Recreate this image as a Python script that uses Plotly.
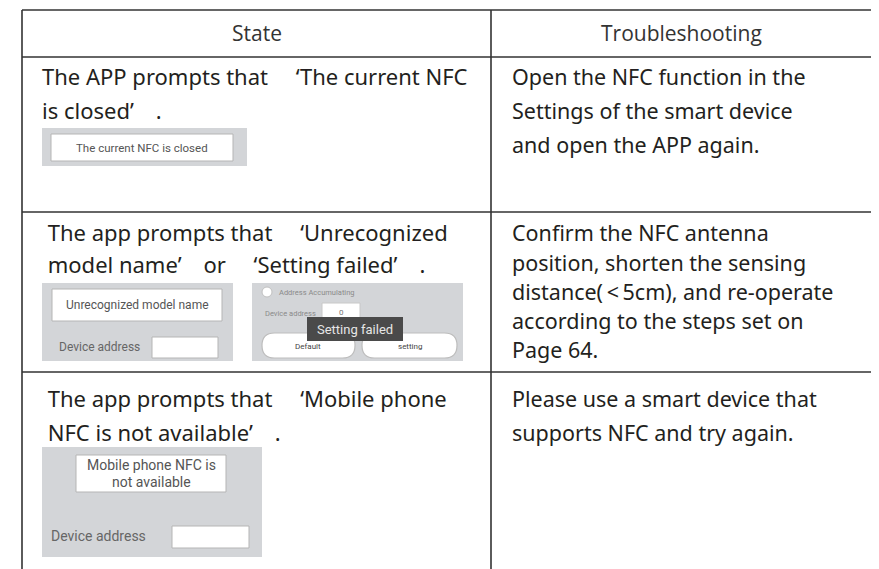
import plotly.graph_objects as go

W, H = 879, 569
OFF = 8  # default page body margin

# ---- table content ----
headers = ["State", "Troubleshooting"]
state_lines = [
    ["The APP prompts that \u2003\u2018The current NFC", "is closed\u2019\u2003."],
    [" The app prompts that \u2003\u2018Unrecognized", " model name\u2019\u2003or \u2003\u2018Setting failed\u2019\u2003."],
    [" The app prompts that \u2003\u2018Mobile phone", " NFC is not available\u2019\u2003."],
]
fix_lines = [
    ["Open the NFC function in the", "Settings of the smart device", "and open the APP again."],
    ["Confirm the NFC antenna", "position, shorten the sensing", "distance(\u2009<\u20095cm), and re-operate",
     "according to the steps set on", "Page 64."],
    ["Please use a smart device that", "supports NFC and try again."],
]
shot1_text = ["The current NFC is closed"]
shot2_text = ["Unrecognized model name", "Device address"]
shot2b_text = ["Address Accumulating", "Device address", "0", "Setting failed", "Default", "setting"]
shot3_text = ["Mobile phone NFC is", "not available", "Device address"]

# ---- layout geometry ----
x_left, x_mid, x_right = 22, 491, 872
y_top, y_head = 10, 57
row_lines = [212, 372]
row_text_y = [[76, 110], [232, 264], [398, 432]]
fix_text_y = [[76, 110, 144], [232, 262, 291, 320, 349], [398, 432]]

fig = go.Figure()
shapes = []
ann = []

LINE = dict(color="#333333", width=1.6)

def rect(x0, y0, x1, y1, fill, line_color=None, lw=1):
    shapes.append(dict(type="rect", xref="x", yref="y", x0=x0, y0=y0, x1=x1, y1=y1,
                       fillcolor=fill, line=dict(color=line_color or fill, width=lw if line_color else 0),
                       layer="above"))

def pill(x0, y0, x1, y1, fill, line_color):
    r = (y1 - y0) / 2
    p = (f"M {x0+r},{y0} L {x1-r},{y0} "
         f"Q {x1},{y0} {x1},{y0+r} Q {x1},{y1} {x1-r},{y1} "
         f"L {x0+r},{y1} Q {x0},{y1} {x0},{y0+r} Q {x0},{y0} {x0+r},{y0} Z")
    shapes.append(dict(type="path", xref="x", yref="y", path=p, fillcolor=fill,
                       line=dict(color=line_color, width=1.2), layer="above"))

def text(x, y, s, size, color="#231f20", family="Open Sans", anchor="left"):
    ann.append(dict(x=x, y=y, xref="x", yref="y", text=s, showarrow=False,
                    xanchor=anchor, yanchor="middle",
                    font=dict(size=size, color=color, family=family)))

# table lines
for y in [y_top, y_head] + row_lines:
    shapes.append(dict(type="line", xref="x", yref="y", x0=x_left, x1=x_right, y0=y, y1=y, line=LINE))
for x in [x_left, x_mid, x_right]:
    shapes.append(dict(type="line", xref="x", yref="y", x0=x, x1=x, y0=y_top, y1=H + 5, line=LINE))

# headers
text((x_left + x_mid) / 2, 33, headers[0], 21, "#333333", "Open Sans", "center")
text((x_mid + x_right) / 2, 33, headers[1], 21, "#333333", "Open Sans", "center")

body_font = "Noto Sans"
for lines, ys in zip(state_lines, row_text_y):
    for s, y in zip(lines, ys):
        text(40, y, s, 22, family=body_font)
for lines, ys in zip(fix_lines, fix_text_y):
    for s, y in zip(lines, ys):
        text(510, y, s, 21.5, family=body_font)

GREY = "#d3d5d8"
SHOT_FONT = "Roboto"
TXT = "#555555"

# screenshot 1
rect(42, 128, 247, 166, GREY)
rect(51, 134, 233, 161, "#ffffff", "#b5b5b5", 1)
text(142, 148, shot1_text[0], 11.5, TXT, SHOT_FONT, "center")

# screenshot 2a
rect(42, 283, 233, 361, GREY)
rect(52, 289, 222, 321, "#ffffff", "#b5b5b5", 1)
text(137, 305, shot2_text[0], 12, TXT, SHOT_FONT, "center")
text(57, 347, shot2_text[1], 12, "#666666", SHOT_FONT, "left")
rect(152, 337, 218, 358, "#ffffff", "#b5b5b5", 1)

# screenshot 2b
rect(252, 283, 463, 361, GREY)
shapes.append(dict(type="circle", xref="x", yref="y", x0=262, x1=272, y0=287, y1=297,
                   fillcolor="#ffffff", line=dict(color="#c0c0c0", width=1), layer="above"))
text(277, 292, shot2b_text[0], 7.5, "#8a8a8a", SHOT_FONT, "left")
text(263, 313, shot2b_text[1], 7.5, "#8a8a8a", SHOT_FONT, "left")
rect(322, 303, 360, 322, "#ffffff", "#c8c8c8", 1)
text(341, 312, shot2b_text[2], 8, "#777777", SHOT_FONT, "center")
pill(262, 333, 355, 358, "#ffffff", "#bdbdbd")
pill(362, 333, 457, 358, "#ffffff", "#bdbdbd")
text(308, 346, shot2b_text[4], 8, "#444444", SHOT_FONT, "center")
text(410, 346, shot2b_text[5], 8, "#444444", SHOT_FONT, "center")
shapes.append(dict(type="rect", xref="x", yref="y", x0=307, x1=403, y0=317, y1=341,
                   fillcolor="#4a4a4a", line=dict(width=0), layer="above"))
text(355, 329, shot2b_text[3], 13, "#e6e6e6", SHOT_FONT, "center")

# screenshot 3
rect(42, 447, 262, 557, GREY)
rect(76, 455, 226, 492, "#ffffff", "#b5b5b5", 1)
text(151, 465, shot3_text[0], 14, TXT, SHOT_FONT, "center")
text(151, 482, shot3_text[1], 14, TXT, SHOT_FONT, "center")
text(49, 536, shot3_text[2], 14, "#666666", SHOT_FONT, "left")
rect(172, 526, 249, 548, "#ffffff", "#b5b5b5", 1)

fig.update_layout(
    width=W - OFF, height=H - OFF,
    margin=dict(l=0, r=0, t=0, b=0),
    paper_bgcolor="#ffffff", plot_bgcolor="#ffffff",
    xaxis=dict(range=[OFF, W], visible=False, fixedrange=True),
    yaxis=dict(range=[H, OFF], visible=False, fixedrange=True),
    shapes=shapes, annotations=ann, showlegend=False,
)
fig.write_html("out.html")
